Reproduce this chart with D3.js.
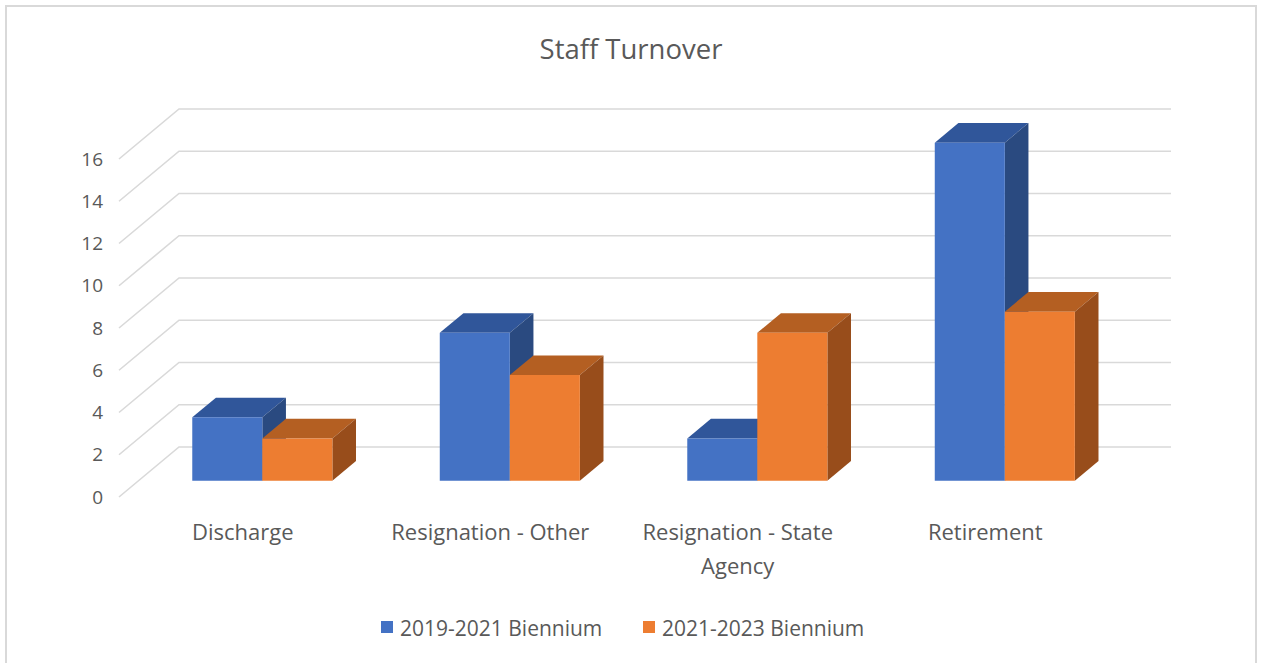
<!DOCTYPE html>
<html>
<head>
<meta charset="utf-8">
<script src="https://cdn.jsdelivr.net/npm/d3@7"></script>
<style>
  body { margin: 0; background: #fff; }
  text { font-family: "Open Sans", Lato, sans-serif; fill: #595959; }
</style>
</head>
<body>
<svg id="chart" width="1261" height="663"></svg>
<script>
// data
var categories = ["Discharge", "Resignation - Other", "Resignation - State Agency", "Retirement"];
var seriesNames = ["2019-2021 Biennium", "2021-2023 Biennium"];
var series2019 = [3, 7, 2, 16];
var series2021 = [2, 5, 7, 8];
var yTicks = [0, 2, 4, 6, 8, 10, 12, 14, 16];

var colors = [
    { front: "#4472C4", top: "#30569A", side: "#2A4A80" },
    { front: "#ED7D31", top: "#B45F22", side: "#984D1B" }
];

var svg = d3.select("#chart");

// frame
svg.append("rect")
    .attr("x", 6).attr("y", 6)
    .attr("width", 1250).attr("height", 670)
    .attr("fill", "none")
    .attr("stroke", "#d9d9d9")
    .attr("stroke-width", 2);

// title
svg.append("text")
    .attr("x", 631).attr("y", 59)
    .attr("text-anchor", "middle")
    .style("font-size", "27.5px")
    .text("Staff Turnover");

// depth of the box (front -> back)
var DX = 60, DY = 50;
var zFront = 0.326, zBack = 0.72;

var x = d3.scaleBand()
    .domain(categories)
    .range([119, 1109])
    .paddingInner(0.434)
    .paddingOuter(0.217);

var xInner = d3.scaleBand()
    .domain(seriesNames)
    .range([0, x.bandwidth()]);

var y = d3.scaleLinear()
    .domain([0, 16])
    .range([497, 159]);

function proj(px, v, z) {
    return [px + z * DX, y(v) - z * DY];
}

// grid: back wall + side wall
var grid = svg.append("g").attr("class", "grid");
yTicks.forEach(function(t) {
    var a = proj(119, t, 0), b = proj(119, t, 1), c = proj(1111, t, 1);
    grid.append("path")
        .attr("d", "M" + a + "L" + b + "L" + c)
        .attr("fill", "none")
        .attr("stroke", "#d9d9d9")
        .attr("stroke-width", 1.6);
});

// y labels
svg.append("g").selectAll("text")
    .data(yTicks)
  .enter().append("text")
    .attr("x", 103)
    .attr("y", function(d) { return y(d); })
    .attr("dy", "0.35em")
    .attr("text-anchor", "end")
    .style("font-size", "19px")
    .text(function(d) { return d; });

// bars
var rows = categories.map(function(c, i) {
    return [
        { cat: c, s: 0, value: series2019[i] },
        { cat: c, s: 1, value: series2021[i] }
    ];
});

var bars = svg.append("g").selectAll("g.group")
    .data(rows)
  .enter().append("g")
    .attr("class", "group")
  .selectAll("g.bar")
    .data(function(d) { return d; })
  .enter().append("g")
    .attr("class", "bar");

function face(pts) {
    return "M" + pts.map(function(p) { return p.join(","); }).join("L") + "Z";
}

bars.each(function(d) {
    var g = d3.select(this);
    var x0 = x(d.cat) + xInner(seriesNames[d.s]);
    var x1 = x0 + xInner.bandwidth();
    var col = colors[d.s];
    // top
    g.append("path")
        .attr("d", face([proj(x0, d.value, zFront), proj(x0, d.value, zBack),
                         proj(x1, d.value, zBack), proj(x1, d.value, zFront)]))
        .attr("fill", col.top);
    // side
    g.append("path")
        .attr("d", face([proj(x1, 0, zFront), proj(x1, d.value, zFront),
                         proj(x1, d.value, zBack), proj(x1, 0, zBack)]))
        .attr("fill", col.side);
    // front
    g.append("path")
        .attr("d", face([proj(x0, 0, zFront), proj(x0, d.value, zFront),
                         proj(x1, d.value, zFront), proj(x1, 0, zFront)]))
        .attr("fill", col.front);
});

// category labels
var catLabels = {
    "Discharge": ["Discharge"],
    "Resignation - Other": ["Resignation - Other"],
    "Resignation - State Agency": ["Resignation - State", "Agency"],
    "Retirement": ["Retirement"]
};
svg.append("g").selectAll("text")
    .data(categories)
  .enter().append("text")
    .attr("x", function(d) { return x(d) + x.bandwidth() / 2; })
    .attr("y", 540)
    .attr("text-anchor", "middle")
    .style("font-size", "22px")
    .each(function(d) {
        var t = d3.select(this);
        catLabels[d].forEach(function(line, i) {
            t.append("tspan")
                .attr("x", x(d) + x.bandwidth() / 2)
                .attr("dy", i === 0 ? 0 : 34)
                .text(line);
        });
    });

// legend
var legendX = [381, 643];
var legend = svg.append("g").selectAll("g")
    .data(seriesNames)
  .enter().append("g")
    .attr("transform", function(d, i) { return "translate(" + legendX[i] + ",621)"; });
legend.append("rect")
    .attr("width", 12).attr("height", 12)
    .attr("fill", function(d, i) { return colors[i].front; });
legend.append("text")
    .attr("x", 19).attr("y", 15)
    .style("font-size", "21px")
    .text(function(d) { return d; });
</script>
</body>
</html>
